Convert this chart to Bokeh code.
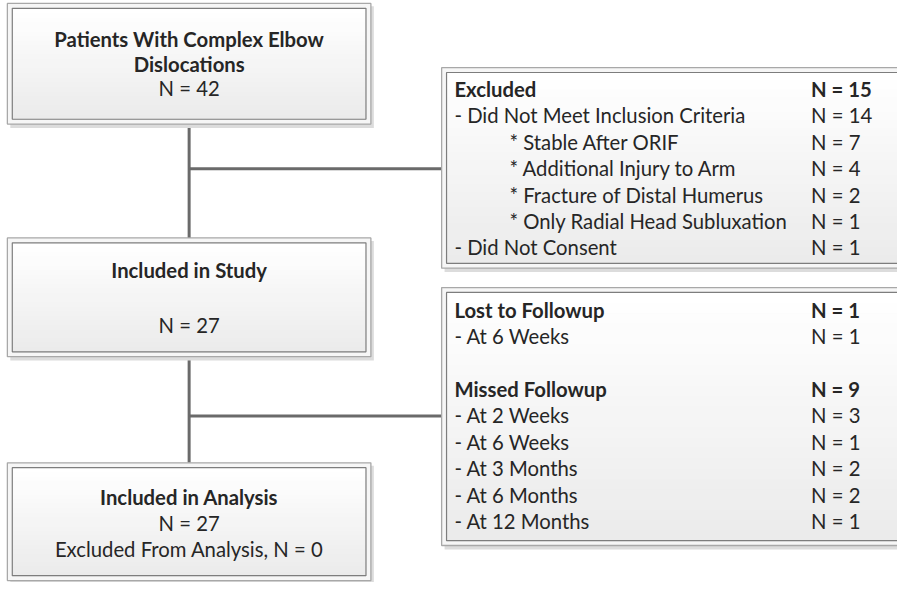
from bokeh.plotting import figure
from bokeh.models import Range1d
from bokeh.core.properties import value
from bokeh.embed import file_html
from bokeh.resources import INLINE

# ---------------- data ----------------
top_title = ["Patients With Complex Elbow", "Dislocations"]
top_n = 42
study_title = "Included in Study"
study_n = 27
analysis_title = "Included in Analysis"
analysis_n = 27
analysis_excluded_n = 0

excluded_labels = ["Excluded", "- Did Not Meet Inclusion Criteria", "* Stable After ORIF",
                   "* Additional Injury to Arm", "* Fracture of Distal Humerus",
                   "* Only Radial Head Subluxation", "- Did Not Consent"]
excluded_counts = [15, 14, 7, 4, 2, 1, 1]
excluded_level = [0, 1, 2, 2, 2, 2, 1]   # 0 = heading, 1 = item, 2 = sub-item

followup_labels = ["Lost to Followup", "- At 6 Weeks", "", "Missed Followup", "- At 2 Weeks",
                   "- At 6 Weeks", "- At 3 Months", "- At 6 Months", "- At 12 Months"]
followup_counts = [1, 1, None, 9, 3, 1, 2, 2, 1]
followup_level = [0, 1, None, 0, 1, 1, 1, 1, 1]

# ---------------- layout ----------------
W, H = 897, 582
p = figure(width=W, height=H, output_backend="svg", toolbar_location=None,
           x_range=Range1d(0, 913), y_range=Range1d(598, 0),
           min_border=0, outline_line_color=None)
p.axis.visible = False
p.grid.visible = False
p.background_fill_color = "white"
p.border_fill_color = "white"

FONT = "Lato"
TXT = "#262626"
FS = "20.3px"


def hexmix(c1, c2, t):
    a = [int(c1[i:i + 2], 16) for i in (1, 3, 5)]
    b = [int(c2[i:i + 2], 16) for i in (1, 3, 5)]
    return "#%02x%02x%02x" % tuple(round(a[k] + (b[k] - a[k]) * t) for k in range(3))


def box(l, t, r, b):
    # shadow
    p.quad(left=[l + 3], right=[r + 3], top=[t + 3], bottom=[b + 4],
           fill_color="#dcdcdc", line_color=None)
    # outer frame
    p.quad(left=[l], right=[r], top=[t], bottom=[b],
           fill_color="#f6f6f6", line_color="#a8a8a8", line_width=1.3)
    # gradient inner
    il, it, ir, ib = l + 5, t + 5, r - 5, b - 5
    n = 24
    hs = (ib - it) / n
    ls, rs, ts, bs, cs = [], [], [], [], []
    for i in range(n):
        ls.append(il); rs.append(ir)
        ts.append(it + i * hs); bs.append(it + (i + 1) * hs + 0.6)
        cs.append(hexmix("#ffffff", "#ebebeb", i / (n - 1)))
    p.quad(left=ls, right=rs, top=ts, bottom=bs, fill_color=cs, line_color=None)
    p.quad(left=[il], right=[ir], top=[it], bottom=[ib],
           fill_color=None, line_color="#7d7d7d", line_width=1.2)


# connectors
CX = 192
LINE = "#6a6a6a"
p.segment(x0=[CX, CX, CX, CX], y0=[127, 366, 173, 427],
          x1=[CX, CX, 449, 449], y1=[244, 475, 173, 427],
          line_color=LINE, line_width=3)

# boxes
box(7, 3, 377, 127)
box(7, 244, 377, 366)
box(7, 475, 377, 596)
box(449, 69, 940, 275)
box(449, 295, 940, 560)


def txt(x, y, s, bold=False, align="left"):
    p.text(x=[x], y=[y], text=[s], text_font=value(FONT), text_font_size=FS,
           text_font_style="bold" if bold else "normal", text_color=TXT,
           text_align=align, text_baseline="middle")


# left column boxes
txt(CX, 40, top_title[0], bold=True, align="center")
txt(CX, 65, top_title[1], bold=True, align="center")
txt(CX, 90, f"N = {top_n}", align="center")

txt(CX, 277, study_title, bold=True, align="center")
txt(CX, 333, f"N = {study_n}", align="center")

txt(CX, 510, analysis_title, bold=True, align="center")
txt(CX, 537, f"N = {analysis_n}", align="center")
txt(CX, 564, f"Excluded From Analysis, N = {analysis_excluded_n}", align="center")

# right boxes
LX = {0: 462, 1: 462, 2: 518}
NX = 825
ROW = 27.1

y0 = 91
for i, (lab, n, lv) in enumerate(zip(excluded_labels, excluded_counts, excluded_level)):
    y = y0 + i * ROW
    txt(LX[lv], y, lab, bold=(lv == 0))
    txt(NX, y, f"N = {n}", bold=(lv == 0))

y0 = 318
for i, (lab, n, lv) in enumerate(zip(followup_labels, followup_counts, followup_level)):
    if lv is None:
        continue
    y = y0 + i * ROW
    txt(LX[lv], y, lab, bold=(lv == 0))
    txt(NX, y, f"N = {n}", bold=(lv == 0))

open("out.html", "w").write(file_html(p, INLINE))
